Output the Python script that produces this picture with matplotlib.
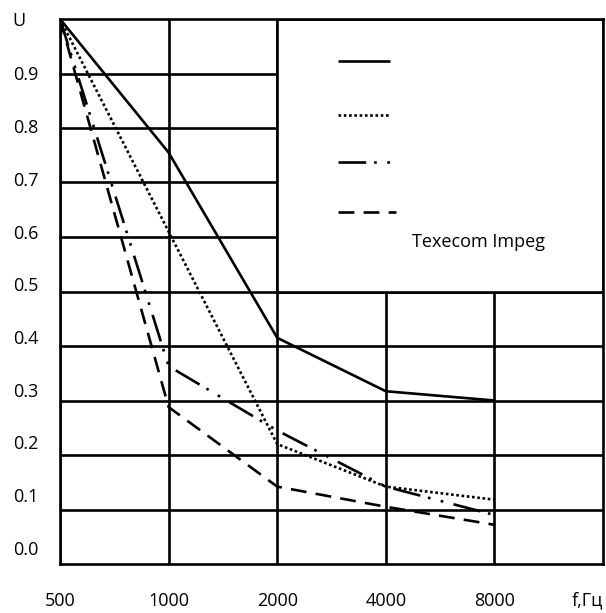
import numpy as np
import matplotlib
matplotlib.use("Agg")
import matplotlib.pyplot as plt
from matplotlib.patches import Rectangle

# Данные: относительное напряжение U по октавным полосам
freqs = [500, 1000, 2000, 4000, 8000]
u_solid = [1.0, 0.755, 0.415, 0.317, 0.30]
u_dotted = [1.0, 0.61, 0.22, 0.142, 0.118]
u_dashdot = [1.0, 0.363, 0.245, 0.142, 0.09]
u_dashed = [1.0, 0.288, 0.142, 0.105, 0.072]
ytick_labels = ["0.0", "0.1", "0.2", "0.3", "0.4", "0.5", "0.6", "0.7", "0.8", "0.9", "U"]
legend_text = "Texecom Impeg"

plt.rcParams["font.family"] = ["Open Sans", "DejaVu Sans"]
plt.rcParams["font.size"] = 13

fig = plt.figure(figsize=(6.06, 6.13), dpi=100)
ax = fig.add_axes([60 / 606, 1 - 564 / 613, 543 / 606, 545 / 613])
ax.set_xscale("log", base=2)
ax.set_xlim(500, 16000)
ax.set_ylim(0, 1)

lw = 1.9
# сетка
for f in freqs:
    ax.axvline(f, color="black", lw=lw, zorder=1)
for v in np.arange(0.1, 1.0, 0.1):
    ax.axhline(v, color="black", lw=lw, zorder=1)
# область легенды закрывает сетку
ax.add_patch(Rectangle((2000, 0.5), 16000 - 2000, 0.5, facecolor="white",
                       edgecolor="black", lw=lw, zorder=1.5))
for s in ax.spines.values():
    s.set_linewidth(lw)
    s.set_zorder(3)

styles = [
    (u_solid, "-"),
    (u_dotted, (0, (1, 1))),
    (u_dashdot, (0, (10.5, 3, 1, 4, 1, 4))),
    (u_dashed, (0, (6, 3.5))),
]
for vals, ls in styles:
    ax.plot(freqs, vals, color="black", lw=lw, ls=ls, zorder=2,
            solid_capstyle="butt", dash_capstyle="butt")

# легенда вручную
ys = [0.923, 0.824, 0.738, 0.646]
for (vals, ls), y in zip(styles, ys):
    x1 = 0.608 if y != 0.646 else 0.618
    ax.plot([0.512, x1], [y, y], transform=ax.transAxes, color="black",
            lw=lw, ls=ls, zorder=4, solid_capstyle="butt", dash_capstyle="butt")
ax.text(0.648, 0.591, legend_text, transform=ax.transAxes, ha="left",
        va="center", zorder=4)

# оси
ax.set_xticks(freqs)
ax.set_xticklabels([str(f) for f in freqs])
ax.xaxis.set_minor_locator(plt.NullLocator())
ax.set_yticks(list(np.linspace(0.03, 0.9, 10)) + [1.0])
ax.set_yticklabels(ytick_labels, ha="left")
ax.tick_params(axis="x", length=0, pad=20)
ax.tick_params(axis="y", length=0, pad=34)
ax.text(0.943, -0.066, "f,Гц", transform=ax.transAxes, ha="left", va="center")

fig.savefig("out.png", dpi=100)
